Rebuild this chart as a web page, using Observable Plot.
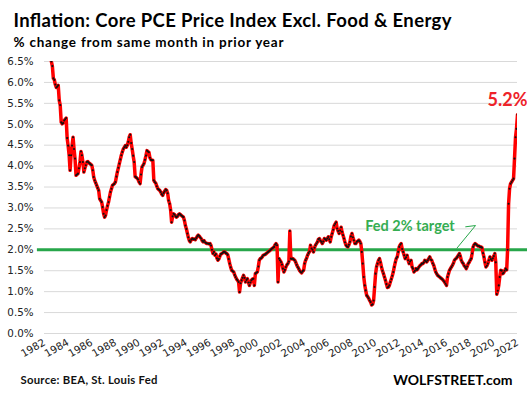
<!DOCTYPE html>
<html><head><meta charset="utf-8">
<script src="https://cdn.jsdelivr.net/npm/d3@7"></script>
<script src="https://cdn.jsdelivr.net/npm/@observablehq/plot@0.6"></script>
<style>
html,body{margin:0;padding:0;background:#fff;}
#chart{width:527px;height:395px;}
</style></head><body><div id="chart"></div>
<script>
const titleText = "Inflation: Core PCE Price Index Excl. Food & Energy";
const subtitleText = "% change from same month in prior year";
const sourceText = "Source: BEA, St. Louis Fed";
const brandText = "WOLFSTREET.com";

const startYear = 1982;
// Core PCE price index, % change y/y, monthly from Jan 1982 to Jan 2022
const corePce = [
  7.30, 7.20, 7.10, 7.00, 6.90, 6.80, 6.65, 6.50, 6.39, 6.10, 6.06, 5.95, // 1982
  5.88, 5.90, 5.93, 5.57, 5.46, 5.05, 5.01, 5.03, 5.09, 5.12, 5.15, 4.67, // 1983
  4.49, 4.26, 3.90, 4.26, 4.49, 4.69, 4.41, 4.18, 3.78, 3.80, 3.82, 3.95, // 1984
  4.10, 4.35, 4.26, 4.10, 3.86, 3.95, 4.02, 4.10, 4.11, 4.08, 4.06, 4.04, // 1985
  4.02, 3.90, 3.74, 3.66, 3.60, 3.54, 3.48, 3.42, 3.22, 3.18, 3.14, 3.02, // 1986
  2.86, 2.78, 2.82, 2.95, 3.05, 3.14, 3.26, 3.38, 3.46, 3.54, 3.56, 3.58, // 1987
  3.62, 3.75, 3.86, 3.96, 4.06, 4.16, 4.26, 4.34, 4.41, 4.45, 4.49, 4.45, // 1988
  4.50, 4.58, 4.69, 4.75, 4.55, 4.41, 4.25, 4.10, 3.75, 3.73, 3.71, 3.68, // 1989
  3.62, 3.58, 3.80, 3.98, 4.02, 4.06, 4.15, 4.25, 4.37, 4.35, 4.33, 4.20, // 1990
  4.15, 4.14, 4.14, 3.66, 3.62, 3.59, 3.52, 3.46, 3.44, 3.42, 3.38, 3.33, // 1991
  3.30, 3.36, 3.40, 3.44, 3.42, 3.35, 3.18, 3.10, 2.95, 2.66, 2.80, 2.86, // 1992
  2.84, 2.80, 2.78, 2.80, 2.84, 2.86, 2.84, 2.82, 2.80, 2.78, 2.70, 2.58, // 1993
  2.50, 2.39, 2.30, 2.22, 2.19, 2.24, 2.27, 2.25, 2.26, 2.24, 2.28, 2.32, // 1994
  2.35, 2.33, 2.30, 2.27, 2.22, 2.19, 2.22, 2.18, 2.16, 2.15, 2.15, 2.14, // 1995
  2.15, 2.10, 2.00, 1.91, 1.95, 1.87, 1.90, 1.80, 1.75, 1.78, 1.85, 1.90, // 1996
  1.91, 1.93, 1.95, 1.95, 1.92, 1.91, 1.88, 1.78, 1.67, 1.58, 1.51, 1.49, // 1997
  1.47, 1.40, 1.35, 1.30, 1.27, 1.23, 0.99, 1.20, 1.27, 1.33, 1.39, 1.33, // 1998
  1.23, 1.28, 1.31, 1.22, 1.15, 1.22, 1.27, 1.30, 1.31, 1.15, 1.43, 1.45, // 1999
  1.47, 1.60, 1.75, 1.79, 1.80, 1.83, 1.87, 1.88, 1.89, 1.91, 1.93, 1.95, // 2000
  1.97, 1.99, 2.01, 2.03, 2.05, 2.07, 2.12, 2.15, 2.11, 1.23, 1.79, 1.75, // 2001
  1.71, 1.65, 1.55, 1.47, 1.52, 1.59, 1.64, 1.67, 1.72, 2.45, 1.79, 1.78, // 2002
  1.79, 1.77, 1.75, 1.70, 1.64, 1.59, 1.55, 1.50, 1.47, 1.45, 1.49, 1.51, // 2003
  1.67, 1.75, 1.80, 1.87, 1.92, 1.96, 2.11, 2.03, 2.00, 1.95, 2.05, 2.11, // 2004
  2.15, 2.19, 2.25, 2.27, 2.22, 2.19, 2.15, 2.20, 2.27, 2.25, 2.23, 2.27, // 2005
  2.31, 2.25, 2.19, 2.31, 2.39, 2.48, 2.58, 2.62, 2.66, 2.51, 2.45, 2.39, // 2006
  2.46, 2.54, 2.43, 2.35, 2.27, 2.18, 2.11, 2.08, 2.07, 2.12, 2.19, 2.32, // 2007
  2.39, 2.30, 2.23, 2.15, 2.15, 2.19, 2.21, 2.23, 2.20, 2.15, 1.95, 1.67, // 2008
  1.35, 1.15, 1.03, 0.91, 0.88, 0.84, 0.79, 0.75, 0.68, 0.70, 0.79, 1.11, // 2009
  1.43, 1.60, 1.67, 1.75, 1.79, 1.70, 1.59, 1.50, 1.43, 1.35, 1.27, 1.18, // 2010
  1.10, 1.11, 1.15, 1.23, 1.30, 1.38, 1.47, 1.59, 1.70, 1.79, 1.83, 1.95, // 2011
  2.07, 2.12, 2.15, 2.02, 1.95, 1.87, 1.79, 1.82, 1.87, 1.75, 1.67, 1.72, // 2012
  1.75, 1.59, 1.55, 1.47, 1.50, 1.55, 1.52, 1.55, 1.59, 1.62, 1.64, 1.67, // 2013
  1.67, 1.70, 1.75, 1.73, 1.71, 1.75, 1.79, 1.83, 1.77, 1.75, 1.68, 1.63, // 2014
  1.55, 1.47, 1.43, 1.39, 1.37, 1.35, 1.33, 1.31, 1.29, 1.26, 1.23, 1.19, // 2015
  1.15, 1.35, 1.43, 1.51, 1.55, 1.59, 1.63, 1.68, 1.75, 1.78, 1.80, 1.83, // 2016
  1.87, 1.91, 1.85, 1.75, 1.70, 1.67, 1.62, 1.59, 1.55, 1.60, 1.67, 1.70, // 2017
  1.75, 1.79, 1.91, 2.07, 2.12, 2.15, 2.13, 2.11, 2.09, 2.09, 2.07, 2.07, // 2018
  2.05, 1.92, 1.83, 1.70, 1.59, 1.62, 1.67, 1.75, 1.83, 1.78, 1.75, 1.80, // 2019
  1.85, 1.91, 1.70, 0.94, 1.02, 1.15, 1.35, 1.51, 1.50, 1.43, 1.45, 1.50, // 2020
  1.55, 1.52, 2.00, 3.10, 3.46, 3.58, 3.62, 3.66, 3.70, 4.18, 4.69, 4.89, // 2021
  5.23                                                                    // 2022
];

const yTicks = [0, 0.5, 1, 1.5, 2, 2.5, 3, 3.5, 4, 4.5, 5, 5.5, 6, 6.5];
const xTickYears = [1982, 1984, 1986, 1988, 1990, 1992, 1994, 1996, 1998, 2000, 2002,
  2004, 2006, 2008, 2010, 2012, 2014, 2016, 2018, 2020, 2022];

const fedTarget = 2;
const fedRuleSpan = [1981.4, 2022.85];
const targetLabel = [{text: "Fed 2% target", year: 2009.12, value: 2.44}];
const leaderYears = [2017.62, 2018.45, 2016.88];
const leaderValues = [2.55, 2.58, 2.04];

const toDate = y => {
  const yr = Math.floor(y);
  const t0 = Date.UTC(yr, 0, 1), t1 = Date.UTC(yr + 1, 0, 1);
  return new Date(t0 + (y - yr) * (t1 - t0));
};

const data = corePce.map((v, i) => ({date: new Date(Date.UTC(startYear, i, 1)), value: v}));
const last = data[data.length - 1];
const leader = leaderYears.map((y, i) => ({date: toDate(y), value: leaderValues[i]}));

const green = "#27a64a";
const tickFont = "'DejaVu Sans', sans-serif";
const headFont = "Lato, 'Open Sans', sans-serif";

const chart = Plot.plot({
  width: 527,
  height: 395,
  marginTop: 61,
  marginBottom: 62,
  marginLeft: 44,
  marginRight: 10,
  style: {fontFamily: tickFont, fontSize: "10px", color: "#222", background: "#fff", overflow: "visible"},
  x: {type: "utc", domain: [new Date(Date.UTC(1982, 0, 1)), new Date(Date.UTC(2022, 0, 1))]},
  y: {domain: [0, 6.5]},
  marks: [
    Plot.ruleY(yTicks, {stroke: "#d9d9d9", strokeWidth: 1}),
    Plot.axisY({ticks: yTicks, tickFormat: d => d.toFixed(1) + "%", tickSize: 0, tickPadding: 11, label: null, fontSize: 10.3, fill: "#222"}),
    Plot.axisX({ticks: xTickYears.map(y => new Date(Date.UTC(y, 0, 1))), tickFormat: d => String(d.getUTCFullYear()),
      tickRotate: -30, tickSize: 0, tickPadding: 8, label: null, fontSize: 10.3, fill: "#222"}),
    Plot.ruleY([fedTarget], {x1: () => toDate(fedRuleSpan[0]), x2: () => toDate(fedRuleSpan[1]), stroke: green, strokeWidth: 3}),
    Plot.line(data, {x: "date", y: "value", stroke: "#ff0000", strokeWidth: 3.5, clip: true}),
    Plot.dot(data, {x: "date", y: "value", r: 1.05, fill: "#111", stroke: "none", clip: true}),
    Plot.line(leader, {x: "date", y: "value", stroke: green, strokeWidth: 1}),
    Plot.text(targetLabel, {x: d => toDate(d.year), y: "value", text: "text", textAnchor: "start", lineAnchor: "bottom",
      fill: "#35ad52", fontSize: 14.5, fontWeight: "bold", fontFamily: headFont}),
    Plot.text([last], {x: "date", y: "value", text: d => d.value.toFixed(1) + "%", dx: -10, dy: -9, textAnchor: "middle",
      lineAnchor: "bottom", fill: "#ee2229", fontSize: 18, fontWeight: "bold", fontFamily: headFont}),
    Plot.text([titleText], {frameAnchor: "top-left", dx: -31, dy: -34.3, textAnchor: "start", lineAnchor: "bottom",
      fontSize: 18.5, fontWeight: "bold", fontFamily: headFont, fill: "#000"}),
    Plot.text([subtitleText], {frameAnchor: "top-left", dx: -31, dy: -14.3, textAnchor: "start", lineAnchor: "bottom",
      fontSize: 13.5, fontWeight: "bold", fontFamily: headFont, fill: "#000"}),
    Plot.text([sourceText], {frameAnchor: "bottom-left", dx: -24, dy: 50.3, textAnchor: "start", lineAnchor: "bottom",
      fontSize: 11.3, fontWeight: "bold", fontFamily: headFont, fill: "#111"}),
    Plot.text([brandText], {frameAnchor: "bottom-right", dx: -5, dy: 51, textAnchor: "end", lineAnchor: "bottom",
      fontSize: 14, fontWeight: "bold", fontFamily: headFont, fill: "#000"})
  ]
});
document.getElementById("chart").appendChild(chart);

// stretch heading letter-spacing to the reference widths
const targetWidths = new Map([[titleText, 438], [subtitleText, 270], [sourceText, 137]]);
chart.querySelectorAll("text").forEach(t => {
  const w = targetWidths.get(t.textContent);
  if (w) { t.setAttribute("textLength", w); t.setAttribute("lengthAdjust", "spacing"); }
});
</script></body></html>
